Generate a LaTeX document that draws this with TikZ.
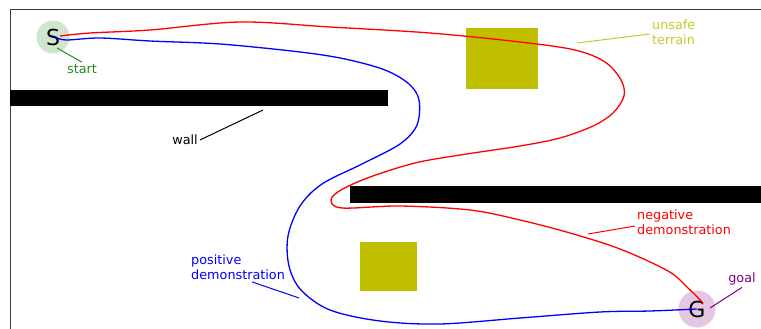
\documentclass[tikz,border=0pt]{standalone}
\usepackage{fontspec}
\setmainfont{DejaVu Sans}
\definecolor{mzFrame} {RGB}{ 60,  60,  60}
\definecolor{mzStart} {RGB}{ 34, 139,  34}
\definecolor{mzGoal}  {RGB}{128,   0, 128}
\definecolor{mzUnsafe}{RGB}{191, 191,   0}
\definecolor{mzUnsLbl}{RGB}{200, 200,  40}
\definecolor{mzNeg}   {RGB}{255,   0,   0}
\definecolor{mzPos}   {RGB}{  0,   0, 255}
\usetikzlibrary{positioning,calc}

\begin{document}
\begin{tikzpicture}[
  x=1pt, y=-1pt,
  wallbar/.style ={fill=black},
  unsafe/.style  ={fill=mzUnsafe},
  endpt/.style   ={circle, inner sep=0pt, font=\fontsize{22}{26}\selectfont},
  lbl/.style     ={font=\fontsize{12.8}{15.5}\selectfont, align=left, inner sep=2pt},
  ptr/.style     ={line width=1pt},
  demo/.style    ={line width=1.3pt, smooth, tension=0.55},
]
  \useasboundingbox (0,0) rectangle (761,329);
  \draw[mzFrame, line width=1pt] (10,329) -- (10,10) -- (761,10);

  % walls and unsafe terrain
  \path[wallbar] (10,90)  rectangle (388,106);
  \path[wallbar] (350,186) rectangle (761,203);
  \path[unsafe]  (466,28)  rectangle (538,89);
  \path[unsafe]  (360,242) rectangle (417,291);

  % start and goal
  \node[endpt, minimum size=33pt, fill=mzStart!22] (S) at (53,37) {S};
  \node[endpt, minimum size=37pt, fill=mzGoal!22]  (G) at (697,309) {G};

  % demonstrations
  \draw[demo, mzNeg] plot coordinates {
    (60,36) (90,33) (150,30) (240,22) (330,27) (430,33) (520,42) (575,50)
    (605,62) (621,80) (624,96) (613,113) (593,126) (560,138) (520,146)
    (460,155) (415,163) (370,177) (341,190) (331,200) (342,208) (400,206)
    (470,210) (520,220) (570,233) (620,249) (668,271) (688,288) (703,303)};
  \draw[demo, mzPos] plot coordinates {
    (55,37) (66,40) (100,38) (150,41) (220,44) (300,52) (345,59) (385,70)
    (409,84) (419,100) (417,125) (400,144) (362,164) (322,184) (300,206)
    (288,236) (289,266) (301,290) (330,310) (380,321) (440,324) (520,318)
    (600,312) (650,311) (697,309)};

  % labels
  \coordinate (startTip) at (57,48);
  \coordinate (wallTip)  at (263,110);
  \coordinate (unsTip)   at (577,43);
  \coordinate (negTip)   at (588,234);
  \coordinate (posTip)   at (299,298);
  \coordinate (goalTip)  at (710,308);

  \node[lbl, text=mzStart]  (start) at (82,69)  {start};
  \node[lbl]                (wall)  at (185,140) {wall};
  \node[lbl, text=mzUnsLbl, anchor=west] (uns) at (650,32)  {unsafe\\terrain};
  \node[lbl, text=mzNeg,    anchor=west] (neg) at (635,222) {negative\\demonstration};
  \node[lbl, text=mzPos,    anchor=west] (pos) at (189,267) {positive\\demonstration};
  \node[lbl, text=mzGoal]   (goal) at (742,279) {goal};

  \draw[ptr, mzStart]  (startTip) -- (start.north);
  \draw[ptr]           (wall.east) -- (wallTip);
  \draw[ptr, mzUnsLbl] (unsTip) -- ([yshift=-2pt]uns.west);
  \draw[ptr, mzNeg]    (negTip) -- ([yshift=-4pt]neg.west);
  \draw[ptr, mzPos]    ([xshift=14pt]pos.south) -- (posTip);
  \draw[ptr, mzGoal]   (goalTip) -- (goal.south);
\end{tikzpicture}
\end{document}
